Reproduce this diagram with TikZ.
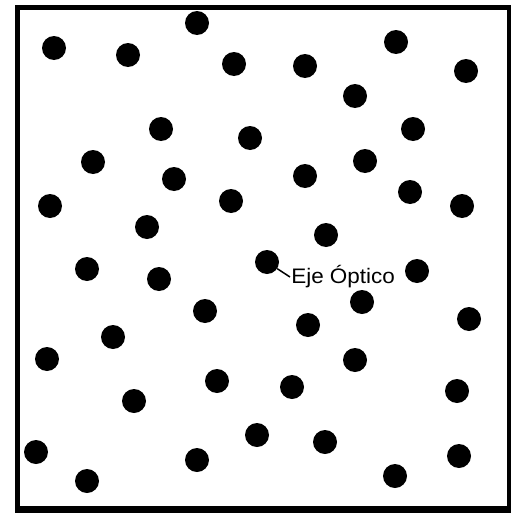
\documentclass[tikz,border=0pt]{standalone}
\usepackage{fontspec}
\newfontfamily\labelfont{Liberation Sans}
\usetikzlibrary{positioning}

\begin{document}
\begin{tikzpicture}[
    x=1pt, y=-1pt,
    spot/.style={circle, fill=black, draw=none, inner sep=0pt, minimum size=24pt},
    axislabel/.style={font=\labelfont\fontsize{21}{25}\selectfont, inner sep=1pt, anchor=west, xscale=1.07},
    leader/.style={line width=1.5pt, draw=black}
  ]
    \useasboundingbox (0,0) rectangle (512,514);

    % Frame
    \draw[line width=4.5pt] (17.5,7.5) rectangle (509,508);
    \draw[line width=5pt] (15,510) -- (511,510);

    % Dots
    \foreach \x/\y [count=\i] in {
      54/48, 128/55, 197/23, 234/64, 161/129, 250/138, 93/162, 174/179,
      50/206, 231/201, 147/227, 396/42, 305/66, 466/71, 355/96, 413/129,
      305/176, 365/161, 410/192, 462/206, 326/235, 267/262, 417/271, 87/269,
      159/279, 205/311, 113/337, 47/359, 217/381, 134/401, 36/452, 197/460,
      87/481, 362/302, 308/325, 469/319, 355/360, 292/387, 457/391, 257/435,
      325/442, 459/456, 395/476}
      \node[spot] (d\i) at (\x,\y) {};

    % Label of the optical axis
    \node[axislabel] (eje) at (290,277) {Eje Óptico};
    \draw[leader] (d22) -- (eje.west);

\end{tikzpicture}
\end{document}
